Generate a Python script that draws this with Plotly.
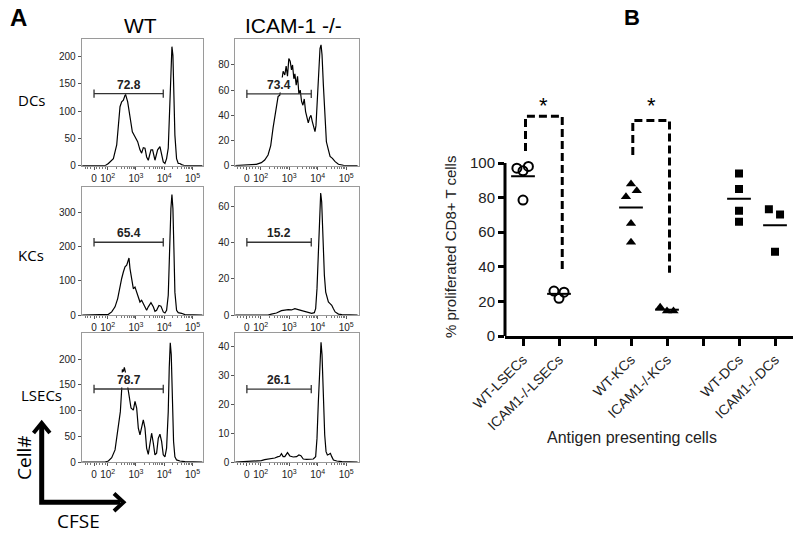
import plotly.graph_objects as go
import numpy as np

W, H = 800, 535
FONT = "Liberation Sans"
FONT2 = "Open Sans"

# ---------------- Panel A data: CFSE histograms ----------------
# x = CFSE display position (decades; 10^2 -> 2, 10^3 -> 3 ...), y = cell count
dc_wt_x = [1.10, 1.906, 2.024, 2.2, 2.318, 2.376, 2.435, 2.494, 2.553, 2.612, 2.635, 2.706, 2.788, 2.871,
           2.965, 3.059, 3.141, 3.2, 3.259, 3.318, 3.376, 3.435, 3.529, 3.588, 3.671, 3.765, 3.847, 3.906,
           3.965, 4.024, 4.082, 4.141, 4.2, 4.235, 4.271, 4.306, 4.341, 4.376, 4.435, 4.494, 4.553, 4.612,
           4.729, 5.35]
dc_wt_y = [0, 0, 4, 13, 38, 80, 108, 117, 120, 129, 130, 117, 93, 62,
           53, 44, 29, 23, 33, 32, 16, 10, 29, 29, 10, 29, 35, 19,
           7, 4, 13, 32, 117, 178, 218, 202, 148, 56, 13, 4, 4, 2,
           0, 0]

dc_ko_x = [1.10, 1.671, 1.847, 2.024, 2.141, 2.259, 2.353, 2.435, 2.518, 2.612, 2.671, 2.729, 2.788, 2.847,
           2.894, 2.941, 2.988, 3.035, 3.082, 3.118, 3.165, 3.2, 3.247, 3.294, 3.341, 3.388, 3.435, 3.482,
           3.529, 3.576, 3.624, 3.671, 3.718, 3.765, 3.812, 3.859, 3.906, 3.941, 3.988, 4.035, 4.082, 4.118,
           4.153, 4.2, 4.247, 4.306, 4.376, 4.435, 4.518, 4.612, 4.729, 4.906, 5.40]
dc_ko_y = [0, 0.5, 1.1, 2.4, 4.5, 8.5, 16, 30, 43, 55, 56, 64, 75, 72,
           79, 71, 85, 83, 76, 80, 69, 73, 64, 71, 57, 60, 51, 48,
           53, 43, 39, 34, 38, 40, 35, 31, 27, 32, 51, 77, 93, 96,
           88, 64, 38, 19, 12.5, 7.3, 5.8, 3.2, 1.1, 0.3, 0]

kc_wt_x = [1.10, 1.965, 2.024, 2.141, 2.259, 2.353, 2.435, 2.494, 2.553, 2.612, 2.671, 2.706, 2.753, 2.788,
           2.847, 2.906, 2.965, 3.024, 3.082, 3.141, 3.2, 3.259, 3.318, 3.376, 3.435, 3.529, 3.612, 3.671,
           3.729, 3.812, 3.882, 3.965, 4.024, 4.082, 4.141, 4.188, 4.235, 4.271, 4.306, 4.341, 4.376, 4.435,
           4.494, 4.612, 4.729, 5.35]
kc_wt_y = [0, 0, 2, 9, 24, 48, 87, 107, 126, 141, 146, 155, 167, 136,
           107, 77, 82, 67, 53, 38, 43, 33, 19, 14, 24, 36, 24, 11,
           14, 28, 26, 9, 6, 14, 58, 195, 312, 353, 312, 195, 67, 14,
           7, 5, 1, 0]

kc_ko_x = [1.10, 2.259, 2.376, 2.553, 2.729, 2.847, 2.965, 3.082, 3.2, 3.318, 3.435, 3.553, 3.671, 3.788,
           3.882, 3.929, 3.976, 4.024, 4.071, 4.106, 4.141, 4.188, 4.235, 4.282, 4.329, 4.376, 4.435, 4.494,
           4.553, 4.612, 4.729, 4.847, 5.40]
kc_ko_y = [0, 0, 0.5, 1.1, 2.4, 2.8, 3, 2.8, 3.5, 3, 2.4, 1.8, 1.3, 0.9,
           1.3, 3.5, 14.6, 36.7, 59, 67.6, 62.6, 40.4, 22, 12.7, 9, 7.2, 6.3, 5.4,
           3.5, 1.7, 0.5, 0.2, 0]

lsec_wt_x = [1.10, 1.906, 2.024, 2.141, 2.259, 2.353, 2.4, 2.447, 2.494, 2.518, 2.553, 2.588, 2.635, 2.729,
             2.824, 2.906, 2.965, 3.024, 3.082, 3.141, 3.2, 3.259, 3.318, 3.376, 3.435, 3.494, 3.553, 3.612,
             3.671, 3.729, 3.788, 3.847, 3.906, 3.965, 4.024, 4.082, 4.141, 4.176, 4.212, 4.247, 4.282, 4.329,
             4.376, 4.435, 4.553, 4.729, 5.35]
lsec_wt_y = [0, 0, 2, 8.5, 23.5, 66, 76, 98, 141, 180, 176, 184, 172, 141,
             105, 101, 118, 105, 66, 53, 66, 82, 66, 27, 15, 33, 56, 37,
             14, 17, 46, 54, 40, 14, 10, 27, 98, 183, 232, 209, 131, 40,
             10, 4, 2, 0.6, 0]

lsec_ko_x = [1.10, 1.906, 2.024, 2.141, 2.259, 2.376, 2.494, 2.612, 2.671, 2.729, 2.788, 2.847, 2.941, 3.024,
             3.141, 3.259, 3.341, 3.412, 3.494, 3.612, 3.729, 3.847, 3.929, 3.976, 4.024, 4.071, 4.118, 4.153,
             4.2, 4.247, 4.294, 4.341, 4.4, 4.447, 4.494, 4.553, 4.671, 4.847, 5.40]
lsec_ko_y = [0, 0.2, 0.46, 0.8, 1, 1.16, 1.4, 1.86, 2, 2.9, 1.86, 1.86, 3.25, 2.1,
             1.74, 1.86, 2.43, 2.2, 1.04, 0.93, 0.93, 1.04, 1.86, 8.2, 21, 35, 41.6, 37.2,
             23.3, 9.4, 3.6, 2.43, 2.67, 3, 1.86, 0.7, 0.35, 0.1, 0]

hist_x = [dc_wt_x, dc_ko_x, kc_wt_x, kc_ko_x, lsec_wt_x, lsec_ko_x]
hist_y = [dc_wt_y, dc_ko_y, kc_wt_y, kc_ko_y, lsec_wt_y, lsec_ko_y]

gate_pct = ["72.8", "73.4", "65.4", "15.2", "78.7", "26.1"]
gate_lo = [1.516, 1.516, 1.516, 1.516, 1.516, 1.516]
gate_hi = [3.965, 3.775, 3.965, 3.775, 3.965, 3.775]
gate_level = [132, 57, 213, 40.3, 142, 25.3]
count_max = [232, 100.6, 375, 70.9, 251, 44.8]
count_ticks = [[0, 50, 100, 150, 200], [0, 20, 40, 60, 80], [0, 100, 200, 300],
               [0, 20, 40, 60], [0, 50, 100, 150, 200], [0, 10, 20, 30, 40]]
cfse_tickvals = [1.516, 2, 3, 4, 5]
cfse_ticktext = ["0", "10<sup>2</sup>", "10<sup>3</sup>", "10<sup>4</sup>", "10<sup>5</sup>"]
col_titles = ["WT", "ICAM-1 -/-"]
row_titles = ["DCs", "KCs", "LSECs"]

# ---------------- Panel B data ----------------
apc_ticklabels = ["WT-LSECs", "ICAM1-/-LSECs", "", "WT-KCs", "ICAM1-/-KCs", "", "WT-DCs", "ICAM1-/-DCs"]
wt_lsec = [97, 95.5, 98, 78.6]
ko_lsec = [26, 21.8, 25.3]
wt_kc = [87.9, 80.5, 84, 65.1, 54.2]
ko_kc = [16.6, 14.5, 14.5]
wt_dc = [94, 85, 72.4, 66]
ko_dc = [73.2, 70.3, 48.7]

# styling / layout helpers (not data)
group_pos = [1, 2, 4, 5, 7, 8]
group_vals = [wt_lsec, ko_lsec, wt_kc, ko_kc, wt_dc, ko_dc]
jitter = [[-0.17, 0.0, 0.15, 0.0], [-0.14, 0.0, 0.14], [0.0, -0.14, 0.16, 0.0, 0.0],
          [-0.19, 0.0, 0.18], [0, 0, 0, 0], [-0.17, 0.14, 0.0]]
group_symbol = ["circle-open", "circle-open", "triangle-up", "triangle-up", "square", "square"]
group_size = [9, 9, 9, 9, 8, 8]

col_x = [(81.7, 203.0), (235.3, 359.0)]
col_range = [(1.08, 5.37), (1.11, 5.45)]
row_px = [(39.0, 165.7), (187.0, 315.0), (333.0, 462.0)]


def pxx(x):
    return x / W


def pyy(y):
    return 1 - y / H


fig = go.Figure()
layout = dict(width=W, height=H, margin=dict(l=0, r=0, t=0, b=0, pad=0, autoexpand=False),
              paper_bgcolor="white", plot_bgcolor="white", showlegend=False)
annotations = []
shapes = []


def note(x, y, text, size, family=FONT, color="black", angle=0, xref="paper", yref="paper", **kw):
    d = dict(x=x, y=y, xref=xref, yref=yref, text=text, showarrow=False, textangle=angle,
             xanchor="center", yanchor="middle", font=dict(family=family, size=size, color=color))
    d.update(kw)
    annotations.append(d)


minor_vals = [1.2, 1.3, 1.4, 1.62, 1.72, 1.82, 1.92]
for n in (2, 3, 4):
    for k in range(2, 10):
        minor_vals.append(n + np.log10(k))

for i in range(6):
    r, c = divmod(i, 2)
    sx = "" if i == 0 else str(i + 1)
    xd = col_x[c]
    yd = row_px[r]
    layout["xaxis" + sx] = dict(
        domain=[pxx(xd[0]), pxx(xd[1])], range=list(col_range[c]), anchor="y" + sx, automargin=False,
        tickmode="array", tickvals=cfse_tickvals, ticktext=cfse_ticktext,
        ticks="outside", ticklen=3, tickcolor="#555", tickwidth=1,
        showline=True, linecolor="#9a9a9a", linewidth=1, mirror=True,
        showgrid=False, zeroline=False,
        tickfont=dict(family=FONT, size=10, color="#222"),
        minor=dict(tickvals=minor_vals, ticks="outside", ticklen=2, tickcolor="#777", tickwidth=1),
    )
    layout["yaxis" + sx] = dict(
        domain=[pyy(yd[1]), pyy(yd[0])], range=[0, count_max[i]], anchor="x" + sx, automargin=False,
        tickmode="array", tickvals=count_ticks[i],
        ticks="outside", ticklen=3, tickcolor="#555", tickwidth=1,
        showline=True, linecolor="#9a9a9a", linewidth=1, mirror=True,
        showgrid=False, zeroline=False,
        tickfont=dict(family=FONT, size=10, color="#222"),
    )
    fig.add_trace(go.Scatter(x=hist_x[i], y=hist_y[i], mode="lines", xaxis="x" + sx, yaxis="y" + sx,
                             line=dict(color="black", width=1.2), hoverinfo="skip"))
    fig.add_trace(go.Scatter(x=[gate_lo[i], gate_hi[i]], y=[gate_level[i], gate_level[i]],
                             mode="lines+markers", xaxis="x" + sx, yaxis="y" + sx,
                             line=dict(color="#333", width=1.4),
                             marker=dict(symbol="line-ns", size=6, line=dict(width=1.3, color="#333")),
                             hoverinfo="skip"))
    note((gate_lo[i] + gate_hi[i]) / 2, gate_level[i], "<b>" + gate_pct[i] + "</b>", 12,
         color="#222", xref="x" + sx, yref="y" + sx, yanchor="bottom", yshift=1,
         bgcolor="white", borderpad=0)

# column titles and row labels
for cx, t in zip([140, 293], col_titles):
    note(pxx(cx), pyy(25), t, 21)
for (rx, ry), t in zip([(31, 100), (31, 255), (41, 395)], row_titles):
    note(pxx(rx), pyy(ry), t, 15, family=FONT2)

# panel letters
note(pxx(18), pyy(18), "<b>A</b>", 24)
note(pxx(632), pyy(18), "<b>B</b>", 22)


# Cell# / CFSE arrows
def path(points):
    return "M " + " L ".join(f"{pxx(x)},{pyy(y)}" for x, y in points)


shapes.append(dict(type="path", xref="paper", yref="paper",
                   path=path([(41.7, 424), (41.7, 502.3), (120, 502.3)]),
                   line=dict(color="black", width=5)))
shapes.append(dict(type="path", xref="paper", yref="paper",
                   path=path([(33.5, 433), (41.7, 423), (49.9, 433)]),
                   line=dict(color="black", width=4)))
shapes.append(dict(type="path", xref="paper", yref="paper",
                   path=path([(114, 493.5), (123.5, 502.3), (114, 511)]),
                   line=dict(color="black", width=4)))
note(pxx(24), pyy(458), "Cell#", 19, family=FONT2, angle=-90)
note(pxx(78), pyy(521), "CFSE", 19, family=FONT2)

# ---------------- Panel B ----------------
layout["xaxis7"] = dict(domain=[pxx(505), pxx(793)], range=[0.5, 8.5], anchor="y7", automargin=False,
                        tickmode="array", tickvals=list(range(1, 9)), ticktext=apc_ticklabels,
                        tickangle=-45, ticks="outside", ticklen=7, tickwidth=2.5, tickcolor="black",
                        showline=True, linecolor="black", linewidth=3, showgrid=False, zeroline=False,
                        tickfont=dict(family=FONT, size=14, color="#222"))
layout["yaxis7"] = dict(domain=[pyy(336), pyy(93.8)], range=[0, 140], anchor="x7", automargin=False,
                        tickmode="array", tickvals=[0, 20, 40, 60, 80, 100],
                        ticks="outside", ticklen=6, tickwidth=2.5, tickcolor="black",
                        showline=False, showgrid=False, zeroline=False,
                        tickfont=dict(family=FONT, size=15, color="#222"))
shapes.append(dict(type="line", xref="x7 domain", yref="y7", x0=0, x1=0, y0=0, y1=100,
                   line=dict(color="black", width=3)))

for pos, vals, jit, sym, sz in zip(group_pos, group_vals, jitter, group_symbol, group_size):
    xs = [pos + j for j in jit]
    fig.add_trace(go.Scatter(x=xs, y=vals, mode="markers", xaxis="x7", yaxis="y7",
                             marker=dict(symbol=sym, size=sz, color="black",
                                         line=dict(color="black", width=2 if "open" in sym else 0)),
                             hoverinfo="skip"))
    m = float(np.mean(vals))
    fig.add_trace(go.Scatter(x=[pos - 0.33, pos + 0.33], y=[m, m], mode="lines", xaxis="x7", yaxis="y7",
                             line=dict(color="black", width=2), hoverinfo="skip"))

# significance brackets (annotation geometry)
brackets = [(1.07, 2.09, 127, 107, 38), (4.05, 5.07, 124.5, 104.6, 36.6)]
for xl, xr, top, lb, rb in brackets:
    fig.add_trace(go.Scatter(x=[xl, xl, xr, xr], y=[lb, top, top, rb], mode="lines",
                             xaxis="x7", yaxis="y7",
                             line=dict(color="black", width=3, dash="8px,4px"), hoverinfo="skip"))
    note((xl + xr) / 2, 133, "*", 22, xref="x7", yref="y7")

note(pxx(450), pyy(247), "% proliferated CD8+ T cells", 15, color="#222", angle=-90)
note(pxx(632), pyy(437), "Antigen presenting cells", 16, color="#222")

layout["annotations"] = annotations
layout["shapes"] = shapes
fig.update_layout(**layout)
fig.write_html("out.html", config={"displayModeBar": False},
               post_script="document.body.style.margin='0px';")
